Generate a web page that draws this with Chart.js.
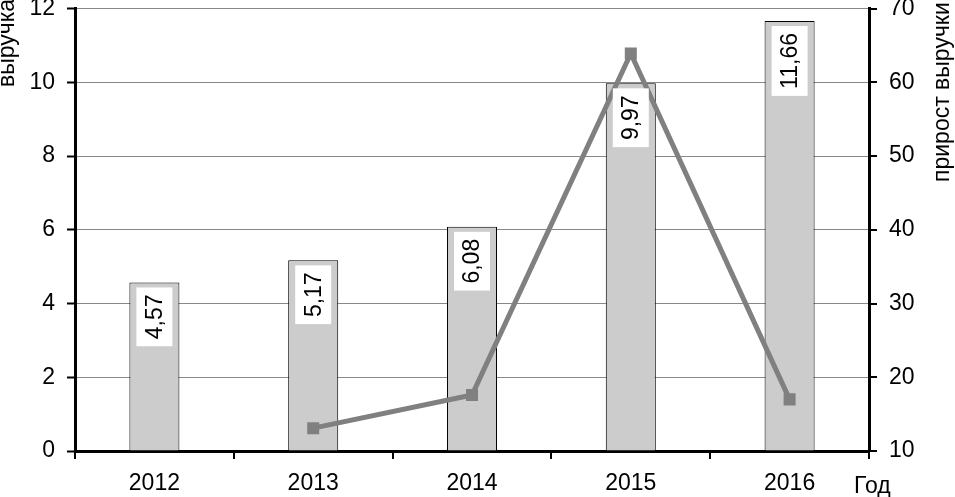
<!DOCTYPE html>
<html lang="ru">
  <head>
    <meta charset="UTF-8" />
    <title>Выручка и прирост выручки</title>
    <script src="https://cdn.jsdelivr.net/npm/chart.js"></script>
    <style>
      html, body { margin: 0; padding: 0; background: #fff; }
      #chart { display: block; }
    </style>
  </head>
  <body>
    <canvas id="chart" width="955" height="497"></canvas>
    <script>
      // data
      const years = ["2012", "2013", "2014", "2015", "2016"];
      const revenue = [4.57, 5.17, 6.08, 9.97, 11.66];
      const revenueGrowth = [null, 13.1, 17.6, 63.9, 17.0];
      const leftTitle = "выручка";
      const rightTitle = "прирост выручки";
      const xTitle = "Год";

      const FONT = "'Liberation Sans', Arial, sans-serif";

      // rotated value labels in white boxes near the top of each bar
      const barLabels = {
        id: "barLabels",
        afterDatasetsDraw(chart) {
          const ctx = chart.ctx;
          const meta = chart.getDatasetMeta(1);
          ctx.save();
          ctx.font = "23px " + FONT;
          meta.data.forEach((bar, i) => {
            const text = revenue[i].toFixed(2).replace(".", ",");
            const w = ctx.measureText(text).width;
            const boxH = w + 14;
            const boxW = 36;
            const top = bar.y + 5;
            ctx.fillStyle = "#fff";
            ctx.fillRect(bar.x - boxW / 2, top, boxW, boxH);
            ctx.save();
            ctx.translate(bar.x, top + boxH / 2);
            ctx.rotate(-Math.PI / 2);
            ctx.fillStyle = "#000";
            ctx.textAlign = "center";
            ctx.textBaseline = "middle";
            ctx.fillText(text, 0, 1);
            ctx.restore();
          });
          ctx.restore();
        },
      };

      // axis titles placed like the original
      const axisTitles = {
        id: "axisTitles",
        afterDraw(chart) {
          const ctx = chart.ctx;
          ctx.save();
          ctx.fillStyle = "#000";
          ctx.font = "23px " + FONT;
          ctx.textBaseline = "middle";
          ctx.textAlign = "left";

          ctx.save();
          ctx.translate(8, 87);
          ctx.rotate(-Math.PI / 2);
          ctx.fillText(leftTitle, 0, 0);
          ctx.restore();

          ctx.save();
          ctx.translate(943, 182);
          ctx.rotate(-Math.PI / 2);
          ctx.fillText(rightTitle, 0, 0);
          ctx.restore();

          ctx.textBaseline = "alphabetic";
          ctx.fillText(xTitle, 854, 493);
          ctx.restore();
        },
      };

      function noPad(axis) {
        axis.paddingTop = 0;
        axis.paddingBottom = 0;
        axis.paddingLeft = 0;
        axis.paddingRight = 0;
      }

      new Chart(document.getElementById("chart"), {
        data: {
          labels: years,
          datasets: [
            {
              type: "line",
              data: revenueGrowth,
              yAxisID: "y2",
              borderColor: "#808080",
              backgroundColor: "#808080",
              borderWidth: 5,
              pointStyle: "rect",
              pointRadius: 8.5,
              pointBorderWidth: 0,
              spanGaps: false,
              order: 0,
            },
            {
              type: "bar",
              data: revenue,
              yAxisID: "y",
              backgroundColor: "#cccccc",
              borderColor: "#000",
              borderWidth: 1,
              categoryPercentage: 1,
              barPercentage: 0.315,
              order: 1,
            },
          ],
        },
        options: {
          responsive: false,
          animation: false,
          layout: { padding: { top: 8, left: 0, right: 0, bottom: 0 } },
          plugins: {
            legend: { display: false },
            tooltip: { enabled: false },
          },
          scales: {
            x: {
              offset: true,
              grid: {
                offset: true,
                drawOnChartArea: false,
                color: "#000",
                lineWidth: 2,
                tickLength: 8,
              },
              border: { color: "#000", width: 3 },
              ticks: {
                color: "#000",
                font: { family: FONT, size: 23 },
                padding: 11,
                maxRotation: 0,
              },
              afterFit(axis) { axis.height = 46; noPad(axis); },
            },
            y: {
              position: "left",
              min: 0,
              max: 12,
              ticks: {
                stepSize: 2,
                color: "#000",
                font: { family: FONT, size: 23 },
                padding: 12,
              },
              grid: {
                color: "#888",
                lineWidth: 1,
                tickColor: "#000",
                tickLength: 8,
                tickWidth: 2,
              },
              border: { color: "#000", width: 3 },
              afterFit(axis) { axis.width = 75; noPad(axis); },
            },
            y2: {
              position: "right",
              min: 10,
              max: 70,
              ticks: {
                stepSize: 10,
                color: "#000",
                font: { family: FONT, size: 23 },
                padding: 12,
              },
              grid: {
                drawOnChartArea: false,
                color: "#000",
                lineWidth: 2,
                tickLength: 8,
              },
              border: { color: "#000", width: 3 },
              afterFit(axis) { axis.width = 86; noPad(axis); },
            },
          },
        },
        plugins: [barLabels, axisTitles],
      });
    </script>
  </body>
</html>
